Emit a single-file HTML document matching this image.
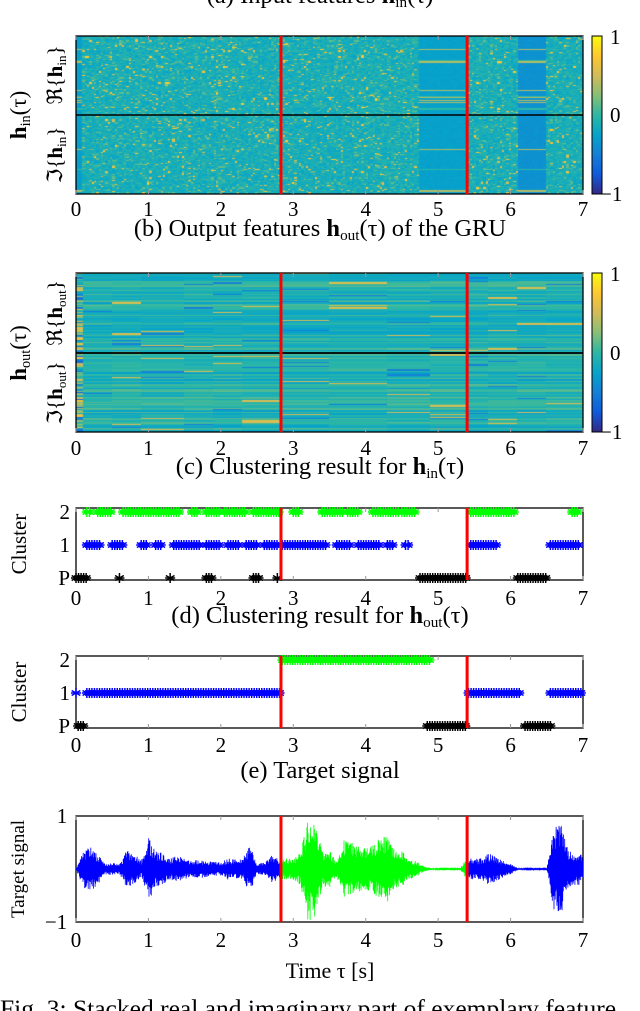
<!DOCTYPE html>
<html><head><meta charset="utf-8">
<style>
html,body{margin:0;padding:0;background:#fff;}
#wrap{position:relative;width:640px;height:1011px;overflow:hidden;}
canvas{position:absolute;}
svg{position:absolute;left:0;top:0;}
text{font-family:"Liberation Serif",serif;fill:#000;}
</style></head>
<body>
<div id="wrap">
<canvas id="hm1" width="507" height="158" style="left:76px;top:36px;width:507px;height:158px"></canvas>
<canvas id="hm2" width="507" height="159" style="left:76px;top:273px;width:507px;height:159px"></canvas>
<canvas id="cb1" width="10" height="158" style="left:592px;top:36px;width:10px;height:158px"></canvas>
<canvas id="cb2" width="10" height="159" style="left:592px;top:273px;width:10px;height:159px"></canvas>
<svg id="svg" width="640" height="1011" xmlns="http://www.w3.org/2000/svg"></svg>
</div>
<script>
// ---------- data ----------
const xTicks = [0,1,2,3,4,5,6,7];
const boundaries = [2.83, 5.4];
const hm1Start = [0, 0.1, 4.75, 5.4, 6.1, 6.5];
const hm1End   = [0.1, 4.75, 5.4, 6.1, 6.5, 7];
const hm1Mean  = [-0.28, -0.12, -0.27, -0.12, -0.38, -0.12];
const hm1Speck = [0.2, 1, 0.15, 1, 0.2, 1];
const hm2Seg = [0,0.1,0.5,0.9,1.5,1.9,2.3,2.83,3.5,4.3,4.9,5.4,5.7,6.1,6.5,7];
const c1Green = [[0.15,0.2],[0.3,0.5],[0.65,1.45],[1.6,1.7],[1.8,2.0],[2.05,2.35],[2.45,2.8],[3.0,3.1],[3.4,3.7],[3.75,3.9],[4.1,4.45],[4.5,4.7],[5.45,6.05],[6.85,6.95]];
const c1Blue  = [[0.15,0.35],[0.5,0.65],[0.9,1.0],[1.1,1.2],[1.35,1.7],[1.8,2.0],[2.1,2.25],[2.35,2.5],[2.6,2.8],[2.85,3.45],[3.6,3.8],[3.9,4.2],[4.3,4.4],[4.55,4.6],[5.45,5.8],[6.55,6.95]];
const c1Black = [[0.0,0.15],[0.6,0.62],[1.3,1.3],[1.8,1.9],[2.45,2.55],[2.78,2.78],[4.75,5.4],[6.1,6.5]];
const c2Green = [[2.85,4.9]];
const c2Blue  = [[0.0,0.0],[0.15,2.83],[5.42,6.15],[6.55,7.0]];
const c2Black = [[0.03,0.12],[4.85,5.4],[6.2,6.55]];
const envTimes = [0,0.1,0.2,0.3,0.4,0.5,0.6,0.7,0.8,0.9,1.0,1.1,1.2,1.3,1.4,1.5,1.6,1.7,1.8,1.9,2.0,2.1,2.2,2.3,2.4,2.5,2.6,2.7,2.8,2.9,3.0,3.1,3.2,3.3,3.4,3.5,3.6,3.7,3.8,3.9,4.0,4.1,4.2,4.3,4.4,4.5,4.6,4.7,4.8,4.9,5.0,5.1,5.2,5.3,5.4,5.5,5.6,5.7,5.8,5.9,6.0,6.1,6.2,6.3,6.4,6.5,6.6,6.7,6.8,6.9,7.0];
const envAmp   = [0,0.35,0.45,0.3,0.1,0.12,0.1,0.35,0.3,0.15,0.6,0.35,0.3,0.2,0.25,0.2,0.15,0.18,0.15,0.14,0.12,0.2,0.18,0.2,0.45,0.1,0.12,0.25,0.2,0.2,0.2,0.3,1.0,0.9,0.35,0.35,0.15,0.55,0.5,0.45,0.4,0.45,0.6,0.65,0.35,0.35,0.2,0.15,0.05,0.02,0.01,0.01,0.01,0.01,0.2,0.2,0.2,0.3,0.25,0.15,0.1,0.02,0.01,0.01,0.01,0.01,0.8,0.85,0.4,0.3,0.3];
const sigGreenStart = 2.83, sigGreenEnd = 5.4;

// ---------- helpers ----------
const X0=76, X1=583;
const xs = t => X0 + t/7*(X1-X0);
const NS='http://www.w3.org/2000/svg';
const svg=document.getElementById('svg');
function el(tag, attrs, parent){const e=document.createElementNS(NS,tag);for(const k in attrs)e.setAttribute(k,attrs[k]);(parent||svg).appendChild(e);return e;}
function hash(i,j){const s=Math.sin(i*12.9898+j*78.233)*43758.5453;return s-Math.floor(s);}
const parula=[[53,42,135],[15,92,221],[20,129,214],[6,164,202],[46,183,164],[135,191,119],[209,187,89],[254,200,50],[249,251,14]];
function cmap(v){let u=(Math.max(-1,Math.min(1,v))+1)/2*8;const i=Math.min(7,Math.floor(u));const f=u-i;const a=parula[i],b=parula[i+1];return 'rgb('+[0,1,2].map(k=>Math.round(a[k]+(b[k]-a[k])*f)).join(',')+')';}

(function(){
 const c=document.getElementById('hm1').getContext('2d');
 const W=507,H=158,cols=220,rows=128;
 for(let i=0;i<cols;i++){
  const t=(i+0.5)/cols*7;
  let s=0;for(let k=0;k<hm1Start.length;k++)if(t>=hm1Start[k]&&t<hm1End[k])s=k;
  for(let j=0;j<rows;j++){
   const r=hash(i,j), rb=hash(j,7.3);
   let v=hm1Mean[s]+(r-0.5)*0.25;
   if(hm1Speck[s]>0.5){ if(r>0.965)v=0.5+0.3*hash(i+1,j); else if(r>0.88)v=0.15; }
   else { if(rb>0.94) v=0.4; else if(rb>0.88) v=0.0; else v=hm1Mean[s]+(r-0.5)*0.06; }
   c.fillStyle=cmap(v);
   c.fillRect(Math.floor(i*W/cols),Math.floor(j*H/rows),Math.ceil(W/cols)+1,Math.ceil(H/rows)+1);
  }
 }
})();
(function(){
 const c=document.getElementById('hm2').getContext('2d');
 const W=507,H=159,rows=128;
 for(let s=0;s<hm2Seg.length-1;s++){
  const xa=(hm2Seg[s]/7)*W, xb=(hm2Seg[s+1]/7)*W;
  for(let j=0;j<rows;j++){
   const rb=hash(j,3.1), r=hash(s*5+1,j);
   let v=-0.08+(rb-0.5)*0.35+(r-0.5)*0.15;
   if(r>0.975)v=0.55; else if(r<0.025)v=-0.5;
   if(s===0) v=(hash(j,9)-0.5)*1.4;
   c.fillStyle=cmap(v);
   c.fillRect(Math.floor(xa),Math.floor(j*H/rows),Math.ceil(xb-xa)+1,Math.ceil(H/rows)+1);
  }
 }
})();
['cb1','cb2'].forEach(id=>{const cv=document.getElementById(id),c=cv.getContext('2d');for(let y=0;y<cv.height;y++){c.fillStyle=cmap(1-2*y/(cv.height-1));c.fillRect(0,y,10,1);}});

const TF=21;
function txt(x,y,s,opts){const t=el('text',Object.assign({x:x,y:y,'font-size':TF},opts||{}));t.textContent=s;return t;}
function hsub(parent,base,sub){
 const a=el('tspan',{'font-weight':'bold'},parent);a.textContent=base;
 const b=el('tspan',{'font-size':'0.62em',dy:4},parent);b.textContent=sub;
 const c=el('tspan',{dy:-4},parent);c.textContent='\u200b';
}
function caption(x,y,pre,sub,post,name){
 const t=el('text',{x:x,y:y,'font-size':24.5,'text-anchor':'middle'});
 
 const a=el('tspan',{},t);a.textContent=pre;
 hsub(t,'h',sub);
 const c=el('tspan',{},t);c.textContent=post;
}
function xTickLabels(y,name){
 const g=el('g',{});
 xTicks.forEach(v=>{const t=el('text',{x:xs(v),y:y,'font-size':TF,'text-anchor':'middle'},g);t.textContent=v;});
}
function frame(y0,y1,name){
 const r=el('rect',{x:X0,y:y0,width:X1-X0,height:y1-y0,fill:'none',stroke:'#000','stroke-width':1.3});
 
 xTicks.forEach(v=>{el('line',{x1:xs(v),x2:xs(v),y1:y0,y2:y0+4,stroke:'#999','stroke-width':1});el('line',{x1:xs(v),x2:xs(v),y1:y1,y2:y1-4,stroke:'#999','stroke-width':1});});
}
function redLines(y0,y1){boundaries.forEach(b=>{const l=el('line',{x1:xs(b),x2:xs(b),y1:y0,y2:y1,stroke:'#f00','stroke-width':3});});}
function rotLabel(x,y,parts,name,fs){
 const t=el('text',{x:0,y:0,'font-size':fs||TF,'text-anchor':'middle',transform:'translate('+x+','+y+') rotate(-90)'});
 
 parts(t);return t;
}

caption(320,3,'(a) Input features ','in','(τ)','caption-a');

frame(36,194,'heatmap-1-frame');
el('line',{x1:X0,x2:X1,y1:115,y2:115,stroke:'#000','stroke-width':1.5});
redLines(36,194);
el('rect',{x:592,y:36,width:10,height:158,fill:'none',stroke:'#000','stroke-width':1});
txt(610,44,'1');txt(610,122,'0');txt(600,201,'−1');
xTickLabels(216,'x-ticks-1');
rotLabel(26,115,t=>{hsub(t,'h','in');const a=el('tspan',{},t);a.textContent='(τ)';},'y-axis-title-1',23);
rotLabel(62,75,t=>{const a=el('tspan',{},t);a.textContent='ℜ{';hsub(t,'h','in');const b=el('tspan',{},t);b.textContent='}';},'real-part-label-1',21);
rotLabel(62,155,t=>{const a=el('tspan',{},t);a.textContent='ℑ{';hsub(t,'h','in');const b=el('tspan',{},t);b.textContent='}';},'imag-part-label-1',21);
caption(320,236,'(b) Output features ','out','(τ) of the GRU','caption-b');

frame(273,432,'heatmap-2-frame');
el('line',{x1:X0,x2:X1,y1:353,y2:353,stroke:'#000','stroke-width':1.8});
redLines(273,432);
el('rect',{x:592,y:273,width:10,height:159,fill:'none',stroke:'#000','stroke-width':1});
txt(610,281,'1');txt(610,360,'0');txt(600,439,'−1');
xTickLabels(455,'x-ticks-2');
rotLabel(26,353,t=>{hsub(t,'h','out');const a=el('tspan',{},t);a.textContent='(τ)';},'y-axis-title-2',23);
rotLabel(62,313,t=>{const a=el('tspan',{},t);a.textContent='ℜ{';hsub(t,'h','out');const b=el('tspan',{},t);b.textContent='}';},'real-part-label-2',21);
rotLabel(62,393,t=>{const a=el('tspan',{},t);a.textContent='ℑ{';hsub(t,'h','out');const b=el('tspan',{},t);b.textContent='}';},'imag-part-label-2',21);
caption(320,474,'(c) Clustering result for ','in','(τ)','caption-c');

function star(g,x,y,col){
 const r=5;
 for(let k=0;k<3;k++){const a=k*Math.PI/3+Math.PI/2;el('line',{x1:x-r*Math.cos(a),y1:y-r*Math.sin(a),x2:x+r*Math.cos(a),y2:y+r*Math.sin(a),stroke:col,'stroke-width':1.5},g);}
 el('line',{x1:x-r,y1:y,x2:x+r,y2:y,stroke:col,'stroke-width':1.5},g);
}
function clusterPlot(y0,y1,levY,green,blue,black,idx){
 const ys=lv=>levY[0]+(levY[2]-levY[0])*(lv/2);
 frame(y0,y1,'cluster-plot-'+idx+'-frame');
 const sets=[[black,0,'#000','P'],[blue,1,'#00f','1'],[green,2,'#0f0','2']];
 sets.forEach(([iv,lv,col,name])=>{
  const g=el('g',{});
  iv.forEach(([a,b])=>{for(let t=a;t<=b+1e-6;t+=0.035)star(g,xs(t),ys(lv),col);});
 });
 redLines(y0,y1);
 [['P',0],['1',1],['2',2]].forEach(([s,lv])=>{const t=txt(70,ys(lv)+7,s,{'text-anchor':'end'});});
 rotLabel(26,(y0+y1)/2,t=>{const a=el('tspan',{},t);a.textContent='Cluster';},'y-axis-title-cluster-'+idx,21);
}
clusterPlot(508,580,[578,546,512],c1Green,c1Blue,c1Black,1);
xTickLabels(605,'x-ticks-3');
caption(320,623,'(d) Clustering result for ','out','(τ)','caption-d');
clusterPlot(656,728,[726,693,660],c2Green,c2Blue,c2Black,2);
xTickLabels(752,'x-ticks-4');
{const t=txt(320,778,'(e) Target signal',{'text-anchor':'middle','font-size':24.5});}

(function(){
 const y0=816,y1=922,yc=(y0+y1)/2,half=(y1-y0)/2;
 frame(y0,y1,'signal-frame');
 function env(t){const i=Math.min(envTimes.length-2,Math.floor(t/0.1));const f=(t-envTimes[i])/0.1;return envAmp[i]+(envAmp[i+1]-envAmp[i])*f;}
 let pb1='',pb2='',pg='';
 const step=0.004;let k=0;
 for(let t=0.0;t<=7;t+=step,k++){
  const a=env(t)*(0.45+0.55*hash(k,2.2));const sgn=(k%2?1:-1);
  const y=(yc-sgn*a*half).toFixed(1);const x=xs(t).toFixed(1);
  if(t>=sigGreenStart&&t<sigGreenEnd) pg+=(pg?'L':'M')+x+','+y;
  else if(t<sigGreenStart) pb1+=(pb1?'L':'M')+x+','+y;
  else pb2+=(pb2?'L':'M')+x+','+y;
 }
 const b=el('path',{d:pb1+pb2,fill:'none',stroke:'#0000ff','stroke-width':0.8});
 const g=el('path',{d:pg,fill:'none',stroke:'#00ff00','stroke-width':0.8});
 redLines(y0,y1);
 txt(62,823,'1',{'text-anchor':'middle'});txt(56,929,'−1',{'text-anchor':'middle'});
 rotLabel(24,yc,t=>{const a=el('tspan',{},t);a.textContent='Target signal';},'y-axis-title-signal',19);
})();
xTickLabels(947,'x-ticks-5');
{const t=txt(330,978,'Time τ [s]',{'text-anchor':'middle','font-size':22});}
{const t=txt(0,1017,'Fig. 3: Stacked real and imaginary part of exemplary feature',{'font-size':25.5});}
</script>
</body></html>
